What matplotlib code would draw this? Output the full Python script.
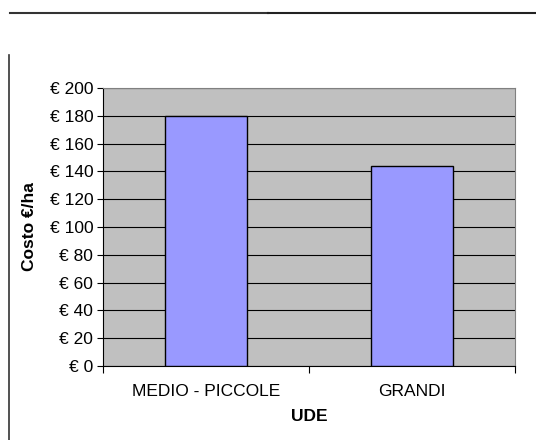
import numpy as np
import matplotlib.pyplot as plt
from matplotlib.lines import Line2D

plt.rcParams['font.family'] = ['Liberation Sans', 'DejaVu Sans']

categorie = ['MEDIO - PICCOLE', 'GRANDI']
costo = [180, 144]
y_ticks = list(range(0, 201, 20))
y_labels = ['€ %d' % v for v in y_ticks]

fig = plt.figure(figsize=(5.36, 4.40), dpi=100)
ax = fig.add_axes([0.192, 0.168, 0.769, 0.632])

ax.set_facecolor('#C0C0C0')
x = np.arange(len(categorie))
ax.bar(x, costo, width=0.4, color='#9999FF', edgecolor='black', linewidth=1, zorder=3)

ax.set_xlim(-0.5, len(categorie) - 0.5)
ax.set_ylim(0, 200)
ax.set_yticks(y_ticks)
ax.set_yticklabels(y_labels, fontsize=12.5)
ax.yaxis.grid(True, color='black', linewidth=0.8, zorder=1)

# tick di categoria ai bordi
ax.set_xticks(np.arange(-0.5, len(categorie), 1.0))
ax.set_xticklabels([])
ax.set_xticks(x, minor=True)
ax.set_xticklabels(categorie, minor=True, fontsize=12.5)
ax.tick_params(axis='x', which='minor', length=0, pad=13)
ax.tick_params(axis='x', which='major', length=5, direction='out', color='black')
ax.tick_params(axis='y', length=4, direction='out', color='black', pad=3)

for s in ['top', 'right']:
    ax.spines[s].set_color('#808080')
for s in ['left', 'bottom']:
    ax.spines[s].set_color('black')

ax.set_ylabel('Costo €/ha', fontsize=12.5, fontweight='bold', labelpad=9)
ax.set_xlabel('UDE', fontsize=12.5, fontweight='bold', labelpad=7)

# linee della pagina
fig.add_artist(Line2D([10 / 536, 268 / 536], [1 - 13 / 440, 1 - 13 / 440], color='#333333', linewidth=1.5))
fig.add_artist(Line2D([268 / 536, 1.0], [1 - 13.5 / 440, 1 - 13.5 / 440], color='#222222', linewidth=1.5))
fig.add_artist(Line2D([8.5 / 536, 8.5 / 536], [0, 1 - 55 / 440], color='#333333', linewidth=1.2))

fig.savefig('out.png', dpi=100)
